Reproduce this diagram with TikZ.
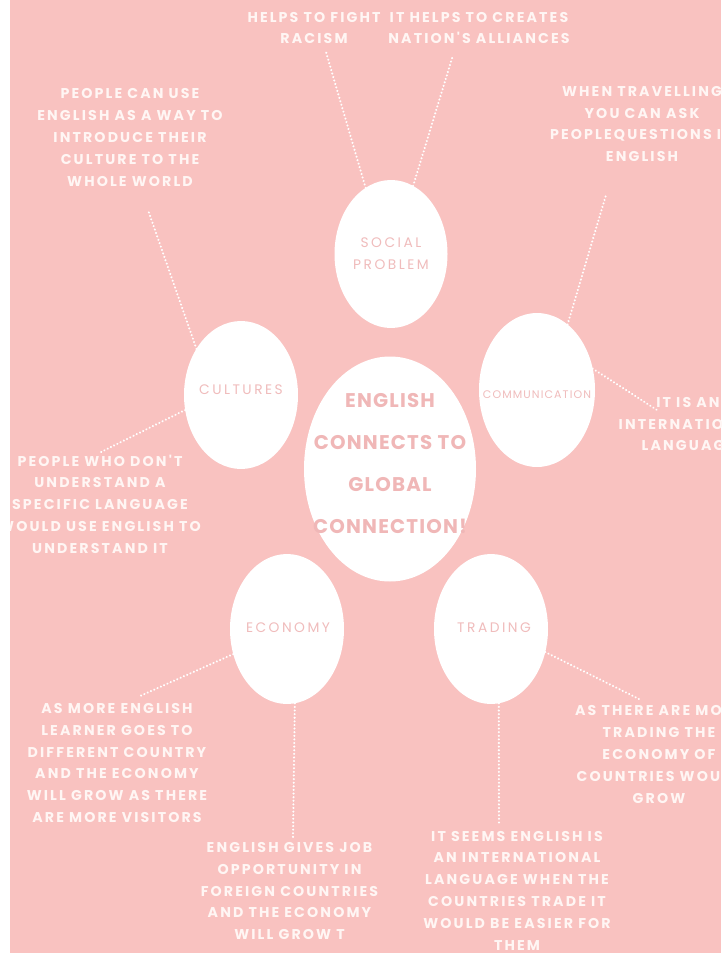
\documentclass[tikz,border=0pt]{standalone}
\usepackage{fontspec}
\setmainfont{Poppins}
\newfontfamily\outerf{Poppins}[LetterSpace=15]
\newfontfamily\innerf{Poppins}[LetterSpace=18]
\newfontfamily\commf{Poppins}[LetterSpace=10]
\newfontfamily\centf{Poppins}[LetterSpace=6]
\usetikzlibrary{shapes.geometric}
\definecolor{bgpink}{RGB}{249,194,192}
\definecolor{txtwhite}{RGB}{255,246,244}
\definecolor{lblpink}{RGB}{240,188,188}
\definecolor{cenpink}{RGB}{240,183,183}
\begin{document}
\begin{tikzpicture}[x=1pt,y=-1pt,
  bubble/.style={ellipse, fill=white, inner sep=0pt, outer sep=0pt},
  outertext/.style={text=txtwhite, align=center, inner sep=0pt,
    font=\outerf\bfseries\fontsize{14.2}{21.8}\selectfont},
  innertext/.style={text=lblpink, align=center, inner sep=0pt,
    font=\innerf\fontsize{13.8}{21.5}\selectfont},
  commtext/.style={text=lblpink, align=center, inner sep=0pt,
    font=\commf\fontsize{11}{20}\selectfont},
  centertext/.style={text=cenpink, align=center, inner sep=0pt,
    font=\centf\bfseries\fontsize{19.8}{42}\selectfont},
  dotline/.style={draw=white, line width=2.3pt, line cap=round, dash pattern=on 0.01pt off 3.6pt}]
\useasboundingbox (0,0) rectangle (721,953);
\clip (0,0) rectangle (721,953);
\fill[bgpink] (0,0) rectangle (721,953);

% bubbles
\node[bubble, minimum width=113pt, minimum height=148pt] (soc) at (391,254) {};
\node[bubble, minimum width=114pt, minimum height=148pt] (cul) at (241,395) {};
\node[bubble, minimum width=116pt, minimum height=154pt] (com) at (537,390) {};
\node[bubble, minimum width=172pt, minimum height=225pt] (cen) at (390,469) {};
\node[bubble, minimum width=114pt, minimum height=150pt] (eco) at (287,629) {};
\node[bubble, minimum width=114pt, minimum height=150pt] (tra) at (491,629) {};

% free ends of connectors
\coordinate (e1) at (326,52);
\coordinate (e2) at (453,55);
\coordinate (e3) at (148,210);
\coordinate (e4) at (99,453);
\coordinate (e5) at (606,195);
\coordinate (e6) at (657,410);
\coordinate (e7) at (140,696);
\coordinate (e8) at (293,838);
\coordinate (e9) at (499,824);
\coordinate (e10) at (639,699);

\draw[dotline] (soc.111) -- (e1);
\draw[dotline] (soc.72) -- (e2);
\draw[dotline] (cul.134) -- (e3);
\draw[dotline] (cul.195) -- (e4);
\draw[dotline] (com.65) -- (e5);
\draw[dotline] (com.21) -- (e6);
\draw[dotline] (eco.205) -- (e7);
\draw[dotline] (eco.276) -- (e8);
\draw[dotline] (tra.276) -- (e9);
\draw[dotline] (tra.337) -- (e10);

% labels in bubbles
\node[innertext] (lsoc) at (391,253.5) {SOCIAL\\PROBLEM};
\node[innertext] (lcul) at (241,390) {CULTURES};
\node[commtext] (lcom) at (537,395) {COMMUNICATION};
\node[centertext] (lcen) at (390,463.3) {ENGLISH\\CONNECTS TO\\GLOBAL\\CONNECTION!};
\node[innertext] (leco) at (288,628) {ECONOMY};
\node[innertext] (ltra) at (494,628) {TRADING};

% outer texts
\node[outertext] (tracism) at (314,28) {HELPS TO FIGHT\\RACISM};
\node[outertext] (tally) at (479,28) {IT HELPS TO CREATES\\NATION'S ALLIANCES};
\node[outertext] (tcult) at (130,137.5) {PEOPLE CAN USE\\ENGLISH AS A WAY TO\\INTRODUCE THEIR\\CULTURE TO THE\\WHOLE WORLD};
\node[outertext] (ttrav) at (642,124) {WHEN TRAVELLING\\YOU CAN ASK\\PEOPLEQUESTIONS IN\\ENGLISH};
\node[outertext] (tintl) at (688,424) {IT IS AN\\INTERNATIONAL\\LANGUAGE};
\node[outertext] (tdont) at (100,504) {PEOPLE WHO DON'T\\UNDERSTAND A\\SPECIFIC LANGUAGE\\WOULD USE ENGLISH TO\\UNDERSTAND IT};
\node[outertext] (tlearn) at (117,763) {AS MORE ENGLISH\\LEARNER GOES TO\\DIFFERENT COUNTRY\\AND THE ECONOMY\\WILL GROW AS THERE\\ARE MORE VISITORS};
\node[outertext] (tjob) at (289.5,891) {ENGLISH GIVES JOB\\OPPORTUNITY IN\\FOREIGN COUNTRIES\\AND THE ECONOMY\\WILL GROW T};
\node[outertext] (tseems) at (517,890.5) {IT SEEMS ENGLISH IS\\AN INTERNATIONAL\\LANGUAGE WHEN THE\\COUNTRIES TRADE IT\\WOULD BE EASIER FOR\\THEM};
\node[outertext] (tmore) at (659,754.5) {AS THERE ARE MORE\\TRADING THE\\ECONOMY OF\\COUNTRIES WOULD\\GROW};

% white left margin
\fill[white] (0,0) rectangle (10,953);
\end{tikzpicture}
\end{document}
